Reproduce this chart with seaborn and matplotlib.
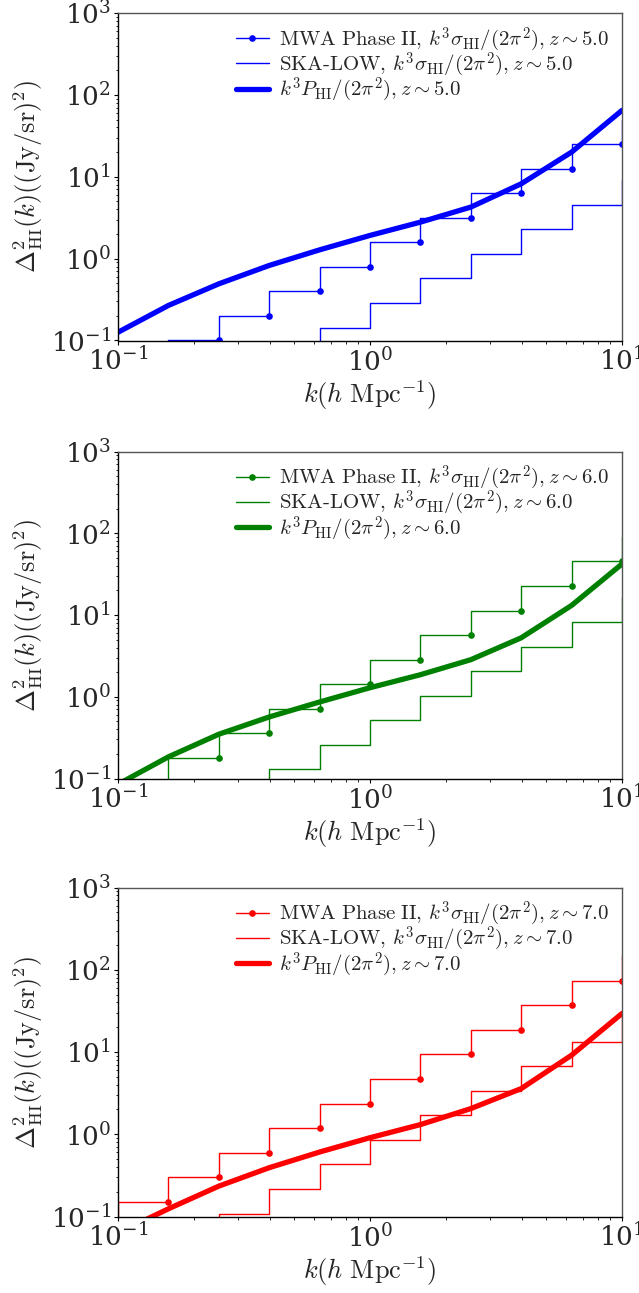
import numpy as np
import pandas as pd
import matplotlib
matplotlib.use("Agg")
import matplotlib.pyplot as plt
import seaborn as sns

# k bins (h/Mpc), shared by all redshifts
k_bins = [0.1, 0.1585, 0.2512, 0.3981, 0.6310, 1.0, 1.585, 2.512, 3.981, 6.310, 10.0, 15.85]

redshifts = ["5.0", "6.0", "7.0"]
colors = ["blue", "green", "red"]

# MWA Phase II noise, k^3 sigma_HI / (2 pi^2)
mwa_z5 = [0.025, 0.05, 0.10, 0.20, 0.40, 0.79, 1.58, 3.16, 6.3, 12.6, 25.0, 50.0]
mwa_z6 = [0.045, 0.09, 0.18, 0.361, 0.715, 1.43, 2.84, 5.67, 11.3, 22.7, 45.4, 90.8]
mwa_z7 = [0.075, 0.151, 0.301, 0.597, 1.19, 2.36, 4.71, 9.33, 18.6, 37.2, 73.6, 151.0]

# SKA-LOW noise, k^3 sigma_HI / (2 pi^2)
ska_z5 = [0.0045, 0.009, 0.018, 0.036, 0.071, 0.143, 0.286, 0.573, 1.135, 2.27, 4.5, 9.0]
ska_z6 = [0.008, 0.016, 0.032, 0.065, 0.129, 0.26, 0.515, 1.02, 2.06, 4.09, 8.18, 16.5]
ska_z7 = [0.0135, 0.027, 0.054, 0.108, 0.215, 0.43, 0.86, 1.70, 3.40, 6.72, 13.4, 26.8]

# HI power spectrum, k^3 P_HI / (2 pi^2), on the first 11 k values
phi_z5 = [0.126, 0.268, 0.492, 0.825, 1.28, 1.92, 2.79, 4.26, 8.2, 20.0, 64.7]
phi_z6 = [0.085, 0.184, 0.348, 0.566, 0.863, 1.29, 1.86, 2.84, 5.26, 13.1, 42.1]
phi_z7 = [0.063, 0.124, 0.234, 0.392, 0.608, 0.908, 1.31, 2.05, 3.59, 9.15, 29.4]

mwa_all = [mwa_z5, mwa_z6, mwa_z7]
ska_all = [ska_z5, ska_z6, ska_z7]
phi_all = [phi_z5, phi_z6, phi_z7]

sns.set_style("ticks")
plt.rcParams["mathtext.fontset"] = "cm"
plt.rcParams["font.family"] = ["DejaVu Serif"]
plt.rcParams["axes.formatter.use_mathtext"] = True

W, H = 639, 1293
fig = plt.figure(figsize=(W / 100, H / 100), dpi=100)

left, right = 118, 622
panel_px = [(13, 340.5), (451.5, 778.5), (887.5, 1216.5)]

for i, (top, bot) in enumerate(panel_px):
    ax = fig.add_axes([left / W, 1 - bot / H, (right - left) / W, (bot - top) / H])
    c = colors[i]
    z = redshifts[i]

    df_mwa = pd.DataFrame({"k": k_bins, "v": mwa_all[i]})
    df_ska = pd.DataFrame({"k": k_bins, "v": ska_all[i]})
    df_phi = pd.DataFrame({"k": k_bins[:len(phi_all[i])], "v": phi_all[i]})

    sns.lineplot(data=df_mwa, x="k", y="v", ax=ax, color=c, lw=1.0,
                 drawstyle="steps-pre", marker="o", markersize=4.8,
                 markeredgewidth=0, estimator=None, sort=False,
                 label=r"$\mathrm{MWA\ Phase\ II},\, k^3\sigma_{\mathrm{HI}}/(2\pi^2), z\sim" + z + "$")
    sns.lineplot(data=df_ska, x="k", y="v", ax=ax, color=c, lw=1.0,
                 drawstyle="steps-pre", estimator=None, sort=False,
                 label=r"$\mathrm{SKA\text{-}LOW},\, k^3\sigma_{\mathrm{HI}}/(2\pi^2), z\sim" + z + "$")
    sns.lineplot(data=df_phi, x="k", y="v", ax=ax, color=c, lw=3.8,
                 estimator=None, sort=False,
                 label=r"$k^3P_{\mathrm{HI}}/(2\pi^2), z\sim" + z + "$")

    ax.set_xscale("log")
    ax.set_yscale("log")
    ax.set_xlim(0.1, 10)
    ax.set_ylim(0.1, 1000)
    ax.set_xlabel(r"$k(h\ \mathrm{Mpc}^{-1})$", fontsize=19, labelpad=2)
    ax.set_ylabel(r"$\Delta^2_{\mathrm{HI}}(k)((\mathrm{Jy/sr})^2)$", fontsize=19, labelpad=4)
    ax.tick_params(which="major", direction="out", length=3, width=0.8,
                   labelsize=19, color="black", pad=2)
    ax.tick_params(which="minor", direction="out", length=1.8, width=0.6, color="black")
    for s in ["left", "bottom"]:
        ax.spines[s].set_color("black")
        ax.spines[s].set_linewidth(1.0)
    for s in ["top", "right"]:
        ax.spines[s].set_color("#555555")
        ax.spines[s].set_linewidth(1.0)

    ax.legend(loc="upper right", frameon=False, fontsize=15,
              handlelength=1.6, handletextpad=0.5, labelspacing=-0.15,
              borderaxespad=0.2)

fig.savefig("out.png", dpi=100)
